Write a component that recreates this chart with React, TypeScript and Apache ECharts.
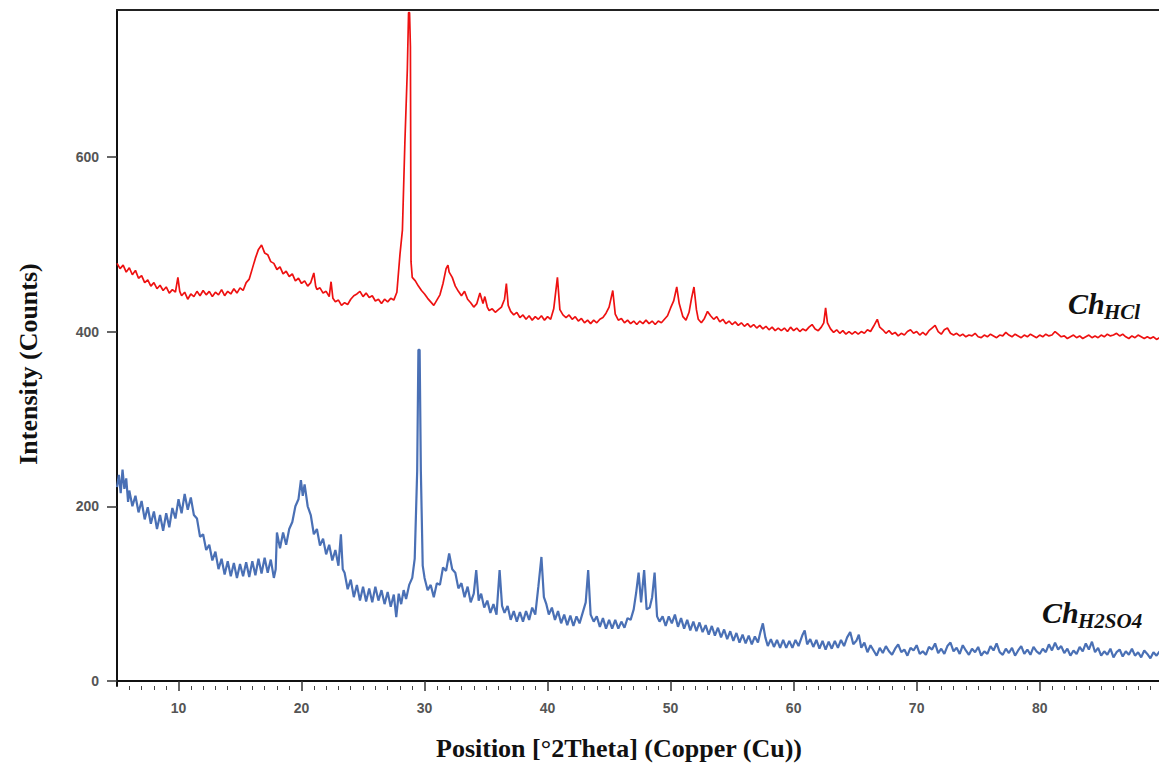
import React, { useEffect, useRef } from "react";
import * as echarts from "echarts";

// 2θ (degrees) vs intensity (counts)
const chHCl: [number, number][] = [
  [5.0,478],[5.25,472],[5.5,476],[5.75,468],[6.0,473],[6.25,465],[6.5,470],[6.75,461],[7.0,464],[7.25,456],
  [7.5,459],[7.75,452],[8.0,456],[8.25,449],[8.5,453],[8.75,447],[9.0,451],[9.25,444],[9.5,448],[9.75,445],
  [9.95,462],[10.1,446],[10.25,441],[10.5,445],[10.75,437],[11.0,443],[11.25,440],[11.5,446],[11.75,441],[12.0,447],
  [12.25,442],[12.5,446],[12.75,440],[13.0,445],[13.25,442],[13.5,448],[13.75,441],[14.0,446],[14.25,443],[14.5,449],
  [14.75,444],[15.0,450],[15.25,447],[15.5,456],[15.75,460],[16.0,472],[16.25,484],[16.5,494],[16.75,499],[17.0,490],
  [17.25,488],[17.5,480],[17.75,478],[18.0,471],[18.25,474],[18.5,466],[18.75,469],[19.0,463],[19.25,466],[19.5,458],
  [19.75,461],[20.0,455],[20.25,458],[20.5,452],[20.75,456],[21.0,467],[21.15,452],[21.25,448],[21.5,450],[21.75,444],
  [22.0,446],[22.25,440],[22.4,457],[22.55,438],[22.75,434],[23.0,436],[23.25,430],[23.5,433],[23.75,431],[24.0,437],
  [24.25,441],[24.5,443],[24.75,446],[25.0,440],[25.25,444],[25.5,439],[25.75,441],[26.0,435],[26.25,437],[26.5,432],
  [26.75,437],[27.0,434],[27.25,438],[27.5,436],[27.75,445],[28.0,488],[28.2,516],[28.4,616],[28.6,700],[28.7,765],
  [28.78,765],[28.85,726],[28.9,480],[29.0,462],[29.25,458],[29.5,452],[29.75,447],[30.0,443],[30.25,438],[30.5,434],
  [30.75,430],[31.0,436],[31.25,442],[31.5,455],[31.75,472],[31.9,476],[32.0,468],[32.25,462],[32.5,452],[32.75,446],
  [33.0,441],[33.25,446],[33.5,437],[33.75,433],[34.0,428],[34.25,432],[34.5,444],[34.75,432],[34.9,440],[35.1,428],
  [35.25,424],[35.5,426],[35.75,422],[36.0,425],[36.25,428],[36.5,437],[36.65,455],[36.8,430],[37.0,423],[37.25,419],
  [37.5,422],[37.75,416],[38.0,419],[38.25,414],[38.5,418],[38.75,413],[39.0,417],[39.25,414],[39.5,418],[39.75,413],
  [40.0,417],[40.25,414],[40.5,426],[40.8,462],[41.0,425],[41.25,419],[41.5,416],[41.75,419],[42.0,414],[42.25,417],
  [42.5,412],[42.75,415],[43.0,410],[43.25,413],[43.5,409],[43.75,413],[44.0,410],[44.25,414],[44.5,416],[44.75,421],
  [45.0,428],[45.3,447],[45.5,420],[45.75,413],[46.0,415],[46.25,410],[46.5,413],[46.75,409],[47.0,412],[47.25,408],
  [47.5,412],[47.75,409],[48.0,413],[48.25,409],[48.5,412],[48.75,408],[49.0,412],[49.25,410],[49.5,414],[49.75,418],
  [50.0,427],[50.25,435],[50.5,451],[50.7,432],[51.0,417],[51.25,413],[51.5,422],[51.7,438],[51.9,451],[52.1,425],
  [52.25,414],[52.5,410],[52.75,415],[53.0,423],[53.25,418],[53.5,414],[53.75,417],[54.0,411],[54.25,414],[54.5,409],
  [54.75,412],[55.0,408],[55.25,411],[55.5,407],[55.75,410],[56.0,406],[56.25,409],[56.5,405],[56.75,408],[57.0,404],
  [57.25,407],[57.5,403],[57.75,406],[58.0,402],[58.25,405],[58.5,401],[58.75,404],[59.0,401],[59.25,404],[59.5,400],
  [59.75,405],[60.0,401],[60.25,404],[60.5,400],[60.75,403],[61.0,401],[61.25,405],[61.5,408],[61.75,403],[62.0,401],
  [62.25,405],[62.45,410],[62.6,427],[62.75,410],[63.0,403],[63.25,399],[63.5,402],[63.75,398],[64.0,401],[64.25,397],
  [64.5,400],[64.75,397],[65.0,400],[65.25,397],[65.5,400],[65.75,398],[66.0,402],[66.25,400],[66.5,406],[66.8,414],
  [67.0,405],[67.25,402],[67.5,398],[67.75,401],[68.0,397],[68.25,399],[68.5,395],[68.75,398],[69.0,396],[69.25,400],
  [69.5,402],[69.75,398],[70.0,400],[70.25,396],[70.5,399],[70.75,396],[71.0,401],[71.25,404],[71.5,407],[71.75,400],
  [72.0,397],[72.25,402],[72.5,404],[72.75,398],[73.0,396],[73.25,398],[73.5,395],[73.75,397],[74.0,394],[74.25,396],
  [74.5,395],[74.75,398],[75.0,394],[75.25,393],[75.5,396],[75.75,394],[76.0,397],[76.25,395],[76.5,393],[76.75,396],
  [77.0,395],[77.25,399],[77.5,396],[77.75,394],[78.0,397],[78.25,395],[78.5,393],[78.75,396],[79.0,394],[79.25,397],
  [79.5,395],[79.75,393],[80.0,396],[80.25,394],[80.5,397],[80.75,395],[81.0,396],[81.25,400],[81.5,397],[81.75,394],
  [82.0,395],[82.25,392],[82.5,394],[82.75,396],[83.0,393],[83.25,395],[83.5,392],[83.75,394],[84.0,396],[84.25,393],
  [84.5,395],[84.75,393],[85.0,396],[85.25,394],[85.5,397],[85.75,395],[86.0,396],[86.25,398],[86.5,395],[86.75,397],
  [87.0,394],[87.25,392],[87.5,395],[87.75,393],[88.0,396],[88.25,394],[88.5,392],[88.75,394],[89.0,392],[89.25,394],
  [89.5,391],[89.75,393]
];

const chH2SO4: [number, number][] = [
  [5.0,222],[5.15,236],[5.3,215],[5.45,242],[5.6,220],[5.75,232],[5.9,205],[6.0,218],[6.25,200],[6.5,212],
  [6.75,193],[7.0,206],[7.25,185],[7.5,199],[7.75,180],[8.0,194],[8.25,174],[8.5,190],[8.75,172],[9.0,192],
  [9.25,176],[9.5,198],[9.75,186],[10.0,208],[10.25,192],[10.5,214],[10.75,196],[11.0,210],[11.25,190],[11.5,186],
  [11.75,165],[12.0,168],[12.25,150],[12.5,156],[12.75,138],[13.0,148],[13.25,128],[13.5,140],[13.75,122],[14.0,137],
  [14.25,120],[14.5,135],[14.75,118],[15.0,134],[15.25,120],[15.5,136],[15.75,119],[16.0,137],[16.25,121],[16.5,140],
  [16.75,123],[17.0,141],[17.25,124],[17.5,139],[17.75,118],[17.9,128],[18.0,170],[18.25,152],[18.5,170],[18.75,156],
  [19.0,174],[19.25,182],[19.5,200],[19.75,208],[19.95,230],[20.1,212],[20.25,225],[20.5,200],[20.75,190],[21.0,168],
  [21.25,174],[21.5,155],[21.75,163],[22.0,145],[22.25,156],[22.5,138],[22.75,150],[23.0,132],[23.2,168],[23.35,128],
  [23.5,124],[23.75,105],[24.0,116],[24.25,96],[24.5,110],[24.75,92],[25.0,108],[25.25,91],[25.5,106],[25.75,90],
  [26.0,108],[26.25,92],[26.5,104],[26.75,88],[27.0,102],[27.25,85],[27.5,99],[27.7,73],[27.9,100],[28.1,88],
  [28.3,104],[28.5,94],[28.75,110],[29.0,118],[29.2,140],[29.4,240],[29.5,379],[29.6,379],[29.7,240],[29.85,132],
  [30.0,118],[30.25,104],[30.5,110],[30.75,96],[31.0,112],[31.25,110],[31.5,130],[31.75,126],[32.0,146],[32.25,128],
  [32.5,124],[32.75,106],[33.0,112],[33.25,96],[33.5,108],[33.75,90],[34.0,100],[34.2,127],[34.4,92],[34.6,100],
  [34.85,84],[35.1,92],[35.35,78],[35.6,88],[35.85,76],[36.1,127],[36.3,86],[36.5,78],[36.75,86],[37.0,70],
  [37.25,80],[37.5,68],[37.75,79],[38.0,68],[38.25,80],[38.5,70],[38.75,84],[39.0,76],[39.25,108],[39.5,142],
  [39.7,96],[39.9,88],[40.1,76],[40.35,84],[40.6,70],[40.85,80],[41.1,66],[41.35,76],[41.6,64],[41.85,75],
  [42.1,63],[42.35,74],[42.6,66],[42.85,78],[43.1,90],[43.3,127],[43.5,76],[43.75,68],[44.0,74],[44.25,62],
  [44.5,72],[44.75,60],[45.0,70],[45.25,60],[45.5,70],[45.75,60],[46.0,68],[46.25,61],[46.5,72],[46.75,70],
  [47.0,82],[47.2,101],[47.4,124],[47.6,90],[47.85,127],[48.05,82],[48.3,84],[48.5,96],[48.7,124],[48.9,74],
  [49.1,68],[49.35,74],[49.6,63],[49.85,74],[50.1,66],[50.35,76],[50.6,62],[50.85,72],[51.1,60],[51.35,70],
  [51.6,58],[51.85,68],[52.1,57],[52.35,67],[52.6,56],[52.85,64],[53.1,53],[53.35,63],[53.6,52],[53.85,61],
  [54.1,50],[54.35,59],[54.6,48],[54.85,57],[55.1,46],[55.35,55],[55.6,44],[55.85,53],[56.1,43],[56.35,52],
  [56.6,42],[56.85,51],[57.1,44],[57.3,56],[57.5,66],[57.7,50],[57.9,40],[58.15,48],[58.4,39],[58.65,47],
  [58.9,38],[59.15,47],[59.4,38],[59.65,46],[59.9,38],[60.15,47],[60.4,40],[60.7,52],[60.9,58],[61.1,42],
  [61.35,48],[61.6,39],[61.85,47],[62.1,37],[62.35,46],[62.6,36],[62.85,45],[63.1,37],[63.35,46],[63.6,38],
  [63.85,47],[64.1,40],[64.35,50],[64.6,56],[64.85,42],[65.1,46],[65.3,53],[65.5,38],[65.75,44],[66.0,33],
  [66.25,41],[66.5,35],[66.75,29],[67.0,38],[67.25,32],[67.5,40],[67.75,34],[68.0,30],[68.25,37],[68.5,42],
  [68.75,33],[69.0,36],[69.25,29],[69.5,38],[69.75,35],[70.0,41],[70.25,31],[70.5,34],[70.75,30],[71.0,39],
  [71.25,36],[71.5,43],[71.75,32],[72.0,37],[72.25,31],[72.5,40],[72.75,44],[73.0,34],[73.25,38],[73.5,31],
  [73.75,41],[74.0,35],[74.25,30],[74.5,37],[74.75,33],[75.0,39],[75.25,29],[75.5,34],[75.75,31],[76.0,40],
  [76.25,35],[76.5,43],[76.75,33],[77.0,30],[77.25,37],[77.5,32],[77.75,38],[78.0,29],[78.25,35],[78.5,40],
  [78.75,31],[79.0,36],[79.25,30],[79.5,39],[79.75,34],[80.0,31],[80.25,37],[80.5,33],[80.75,42],[81.0,35],
  [81.25,44],[81.5,36],[81.75,40],[82.0,32],[82.25,37],[82.5,29],[82.75,35],[83.0,31],[83.25,39],[83.5,34],
  [83.75,43],[84.0,36],[84.25,45],[84.5,33],[84.75,38],[85.0,29],[85.25,34],[85.5,30],[85.75,37],[86.0,27],
  [86.25,33],[86.5,36],[86.75,28],[87.0,34],[87.25,30],[87.5,37],[87.75,29],[88.0,33],[88.25,27],[88.5,35],
  [88.75,31],[89.0,26],[89.25,33],[89.5,29],[89.75,34]
];

const xMajorTicks = [10, 20, 30, 40, 50, 60, 70, 80];
const xMinorTicks = [
  6, 7, 8, 9, 11, 12, 13, 14, 15, 16, 17, 18, 19, 21, 22, 23, 24, 25, 26, 27, 28, 29,
  31, 32, 33, 34, 35, 36, 37, 38, 39, 41, 42, 43, 44, 45, 46, 47, 48, 49,
  51, 52, 53, 54, 55, 56, 57, 58, 59, 61, 62, 63, 64, 65, 66, 67, 68, 69,
  71, 72, 73, 74, 75, 76, 77, 78, 79, 81, 82, 83, 84, 85, 86, 87, 88, 89
];
const yTicks = [0, 200, 400, 600];

const X_MIN = 5;
const X_MAX = 89.7;
const Y_MIN = -5.7;
const Y_MAX = 768;

const serif = "'Liberation Serif', 'DejaVu Serif', serif";
const sans = "'Liberation Sans', Arial, sans-serif";

export default function App() {
  const ref = useRef<HTMLDivElement>(null);

  useEffect(() => {
    if (!ref.current) return;
    const chart = echarts.init(ref.current, undefined, { renderer: "svg" });
    const grid = { left: 117, right: 0, top: 10, bottom: 79 };
    chart.setOption({
      animation: false,
      backgroundColor: "#ffffff",
      grid,
      xAxis: [
        {
          type: "value",
          min: X_MIN,
          max: X_MAX,
          position: "bottom",
          axisLine: { show: true, lineStyle: { color: "#111", width: 2 } },
          axisTick: { show: true, customValues: xMajorTicks, length: 10, lineStyle: { color: "#333", width: 1.5 } },
          axisLabel: { show: true, customValues: xMajorTicks, color: "#555", fontSize: 14, fontWeight: "bold", fontFamily: sans, margin: 15 },
          splitLine: { show: false },
        },
        {
          type: "value",
          min: X_MIN,
          max: X_MAX,
          position: "bottom",
          axisLine: { show: false },
          axisTick: { show: true, customValues: xMinorTicks, length: 4, lineStyle: { color: "#444", width: 1 } },
          axisLabel: { show: false },
          splitLine: { show: false },
        },
        {
          type: "value",
          min: X_MIN,
          max: X_MAX,
          position: "top",
          axisLine: { show: true, lineStyle: { color: "#222", width: 2 } },
          axisTick: { show: false },
          axisLabel: { show: false },
          splitLine: { show: false },
        },
      ],
      yAxis: {
        type: "value",
        min: Y_MIN,
        max: Y_MAX,
        axisLine: { show: true, lineStyle: { color: "#111", width: 2 } },
        axisTick: { show: true, customValues: yTicks, length: 10, lineStyle: { color: "#333", width: 1.5 } },
        axisLabel: { show: true, customValues: yTicks, color: "#555", fontSize: 14, fontWeight: "bold", fontFamily: sans, margin: 18 },
        splitLine: { show: false },
      },
      series: [
        {
          name: "ChHCl",
          type: "line",
          data: chHCl,
          xAxisIndex: 0,
          showSymbol: false,
          symbol: "none",
          lineStyle: { color: "#ee1111", width: 1.7 },
        },
        {
          name: "ChH2SO4",
          type: "line",
          data: chH2SO4,
          xAxisIndex: 0,
          showSymbol: false,
          symbol: "none",
          lineStyle: { color: "#4a70b5", width: 2.2 },
        },
      ],
      graphic: [
        {
          type: "text",
          x: 28,
          y: 364,
          rotation: Math.PI / 2,
          style: {
            text: "Intensity (Counts)",
            fill: "#111",
            font: `bold 26px ${serif}`,
            align: "center",
            verticalAlign: "middle",
          },
        },
        {
          type: "text",
          x: 619,
          y: 748,
          style: {
            text: "Position [°2Theta] (Copper (Cu))",
            fill: "#111",
            font: `bold 26px ${serif}`,
            align: "center",
            verticalAlign: "middle",
          },
        },
        {
          type: "text",
          x: 1068,
          y: 303,
          style: { text: "Ch", fill: "#111", font: `italic bold 30px ${serif}`, align: "left", verticalAlign: "middle" },
        },
        {
          type: "text",
          x: 1104,
          y: 312,
          style: { text: "HCl", fill: "#111", font: `italic bold 21px ${serif}`, align: "left", verticalAlign: "middle" },
        },
        {
          type: "text",
          x: 1042,
          y: 612,
          style: { text: "Ch", fill: "#111", font: `italic bold 30px ${serif}`, align: "left", verticalAlign: "middle" },
        },
        {
          type: "text",
          x: 1078,
          y: 621,
          style: { text: "H2SO4", fill: "#111", font: `italic bold 21px ${serif}`, align: "left", verticalAlign: "middle" },
        },
      ],
    });
    return () => chart.dispose();
  }, []);

  return (
    <div
      ref={ref}
      style={{ position: "fixed", left: 0, top: 0, width: 1159, height: 765, background: "#fff" }}
    />
  );
}
